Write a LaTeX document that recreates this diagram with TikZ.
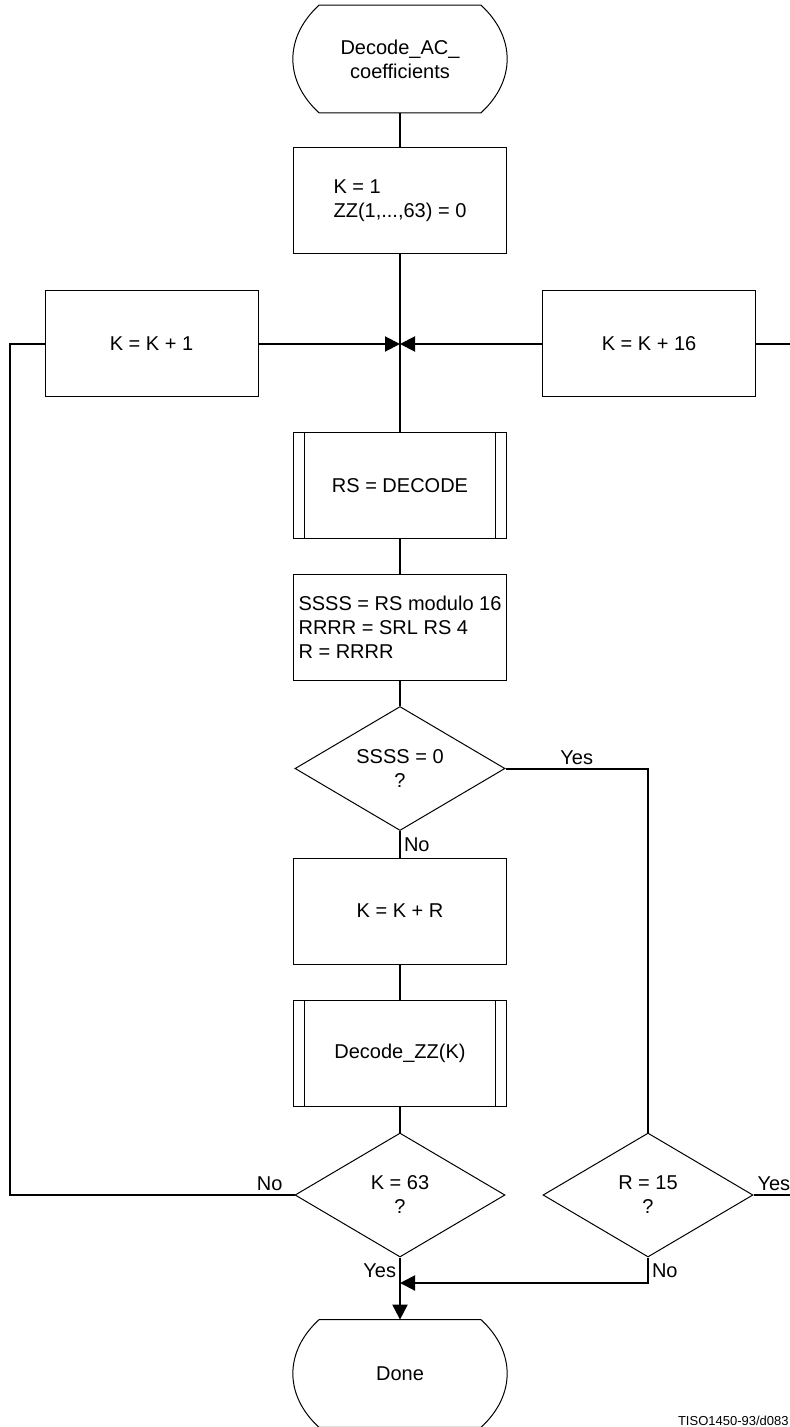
\documentclass[tikz,border=0pt]{standalone}
\usepackage{fontspec}
\setmainfont{Liberation Sans}
\usetikzlibrary{shapes.geometric,arrows.meta,calc}

% contorno de los terminales (lados curvos)
\newcommand{\termoutline}[1]{%
  \draw[boxline] ($(#1.north west)+(26,0)$) -- ($(#1.north east)+(-26,0)$)
    .. controls ($(#1.north east)+(9,32)$) and ($(#1.south east)+(9,-32)$) .. ($(#1.south east)+(-26,0)$)
    -- ($(#1.south west)+(26,0)$)
    .. controls ($(#1.south west)+(-9,-32)$) and ($(#1.north west)+(-9,32)$) .. ($(#1.north west)+(26,0)$) -- cycle;}

\begin{document}
\begin{tikzpicture}[x=0.5pt, y=-0.5pt, font=\fontsize{10pt}{12pt}\selectfont,
    boxline/.style={line width=0.5pt},
    conn/.style={line width=1pt},
    flow/.style={conn, -{Triangle[length=7.5pt,width=7.5pt]}},
    procbox/.style={draw, boxline, minimum width=106.5pt, minimum height=53pt, inner sep=0pt, align=center},
    listbox/.style={procbox, align=left},
    subbox/.style={procbox, path picture={
        \draw[boxline] ([xshift=5.5pt]path picture bounding box.north west) -- ([xshift=5.5pt]path picture bounding box.south west);
        \draw[boxline] ([xshift=-5.5pt]path picture bounding box.north east) -- ([xshift=-5.5pt]path picture bounding box.south east);}},
    testbox/.style={diamond, draw, boxline, minimum width=105pt, minimum height=62pt, aspect=1.7, inner sep=0pt, align=center},
    termbox/.style={minimum width=106.5pt, minimum height=53.5pt, inner sep=0pt, align=center},
    tag/.style={inner sep=1.5pt}]
    \useasboundingbox (0,0) rectangle (790,1427);

    % Columna principal
    \node[termbox] (start) at (400,59) {Decode\_AC\_\\coefficients};
    \termoutline{start}
    \node[listbox] (init) at (400,201) {K = 1\\ZZ(1,...,63) = 0};
    \coordinate (junc) at (400,344);
    \node[procbox] (kpone) at (151.5,344) {K = K + 1};
    \node[procbox] (kpsix) at (649,344) {K = K + 16};
    \node[subbox] (rsdec) at (400,485.5) {RS = DECODE};
    \node[listbox] (split) at (400,627.5) {SSSS = RS modulo 16\\RRRR = SRL RS 4\\R = RRRR};
    \node[testbox] (zerotest) at (400,768.5) {SSSS = 0\\?};
    \node[procbox] (addr) at (400,911) {K = K + R};
    \node[subbox] (dzz) at (400,1053) {Decode\_ZZ(K)};
    \node[testbox] (lasttest) at (400,1195) {K = 63\\?};
    \node[testbox] (runtest) at (648,1195) {R = 15\\?};
    \node[termbox] (done) at (400,1373.5) {Done};
    \termoutline{done}
    \coordinate (merge) at (400,1283);
    \coordinate (leftturn) at (10,344);
    \coordinate (rightup) at (790,344);
    \coordinate (rightlow) at (790,1195);

    % Conexiones
    \draw[conn] (start) -- (init);
    \draw[conn] (init) -- (rsdec);
    \draw[flow] (kpone) -- (junc);
    \draw[flow] (kpsix) -- (junc);
    \draw[conn] (kpsix.east) -- (rightup);
    \draw[conn] (rsdec) -- (split);
    \draw[conn] (split) -- (zerotest);
    \draw[conn] (zerotest) -- node[right, tag] {No} (addr);
    \draw[conn] (zerotest.east) -| node[pos=0.25, above, tag] {Yes} (runtest.north);
    \draw[conn] (addr) -- (dzz);
    \draw[conn] (dzz) -- (lasttest);
    \draw[conn] (lasttest.west) -| node[pos=0, above left, tag, xshift=-4pt] {No} (leftturn) -- (kpone.west);
    \draw[conn] (runtest.east) -- node[pos=0, above right, tag] {Yes} (rightlow);
    \draw[flow] (lasttest.south) -- node[pos=0.21, left, tag] {Yes} (done.north);
    \draw[flow] (runtest.south) |- node[pos=0.25, right, tag] {No} (merge);

    \node[anchor=south east, inner sep=0.5pt, font=\fontsize{6.5pt}{7pt}\selectfont] (docref) at (790,1427) {TISO1450-93/d083};
\end{tikzpicture}
\end{document}
